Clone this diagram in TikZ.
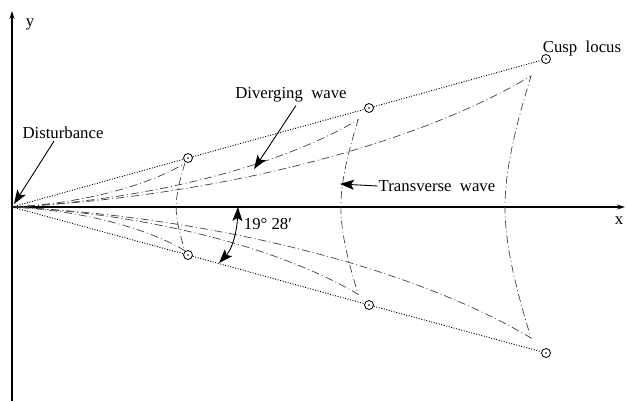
\documentclass[tikz,border=0pt]{standalone}
\usepackage{fontspec}
\setmainfont{Liberation Serif}
\usetikzlibrary{arrows.meta}
\begin{document}
\begin{tikzpicture}[x=1bp,y=-1bp,
  axis/.style={line width=1.1pt},
  kelvin/.style={dash pattern=on 1pt off 1.6pt, line width=0.9pt},
  wave/.style={dash pattern=on 8pt off 3pt on 1pt off 3pt, line width=0.7pt, black!75},
  lab/.style={font=\fontsize{16.8}{19}\selectfont, inner sep=1pt},
  ptr/.style={line width=0.9pt, -{Stealth[length=14pt,width=10pt,inset=3pt]}},
  cuspmark/.style={circle, draw, line width=0.8pt, minimum size=9pt, inner sep=0pt}]
\useasboundingbox (0,0) rectangle (627,401);
\newcommand{\wavefamily}{%
  \draw[wave] (0,0) .. controls (200,10) and (400,60) .. (519,131)
     .. controls (505,85) and (493,40) .. (493,0)
     .. controls (493,-40) and (505,-85) .. (519,-131)
     .. controls (400,-60) and (200,-10) .. (0,0);}
% axes
\coordinate (O) at (12,207);
\coordinate (ybot) at (12,401);
\coordinate (ytop) at (12,11);
\coordinate (xend) at (625,207);
\draw[axis,-{Stealth[length=8pt,width=5pt]}] (ybot) -- (ytop);
\draw[axis,-{Stealth[length=8pt,width=5pt]}] (O) -- (xend);
% wave families
\begin{scope}[shift={(12,207)},yscale=-1,scale=0.333]\wavefamily\end{scope}
\begin{scope}[shift={(12,207)},yscale=-1,scale=0.667]\wavefamily\end{scope}
\begin{scope}[shift={(12,207)},yscale=-1]\wavefamily\end{scope}
% cusp circles
\node[cuspmark] (c1u) at (188,158) {};
\node[cuspmark] (c2u) at (369,108) {};
\node[cuspmark] (c3u) at (546,59) {};
\node[cuspmark] (c1l) at (188,255) {};
\node[cuspmark] (c2l) at (369,305) {};
\node[cuspmark] (c3l) at (546,353) {};
\foreach \c in {c1u,c2u,c3u,c1l,c2l,c3l}{\fill (\c.center) circle (0.9);}
% Kelvin lines
\draw[kelvin] (O) -- (c1u) -- (c2u) -- (c3u);
\draw[kelvin] (O) -- (c1l) -- (c2l) -- (c3l);
% labels
\node[lab] (ylab) at (30,24) {y};
\node[lab] (xlab) at (619,221) {x};
\node[lab] (dist) at (63,133) {Disturbance};
\node[lab] (div) at (291,95) {Diverging\ \ wave};
\node[lab] (cusp) at (582,48) {Cusp\ \ locus};
\node[lab] (trans) at (437,186) {Transverse\ \ wave};
\node[lab] (ang) at (268,224) {19\textdegree\ 28′};
% pointers
\coordinate (distT) at (14,204);
\coordinate (divT) at (254,169);
\coordinate (transT) at (340,184);
\coordinate (angA) at (238,207);
\coordinate (angB) at (219,263);
\draw[ptr] ([xshift=-9pt,yshift=-1pt]dist.south) -- (distT);
\draw[ptr] ([xshift=5pt,yshift=-2pt]div.south) -- (divT);
\draw[ptr] (trans.west) -- (transT);
\draw[line width=0.9pt, {Stealth[length=14pt,width=10pt,inset=3pt]}-{Stealth[length=14pt,width=10pt,inset=3pt]}]
  (angA) .. controls (237,230) and (233,248) .. (angB);
\end{tikzpicture}
\end{document}
